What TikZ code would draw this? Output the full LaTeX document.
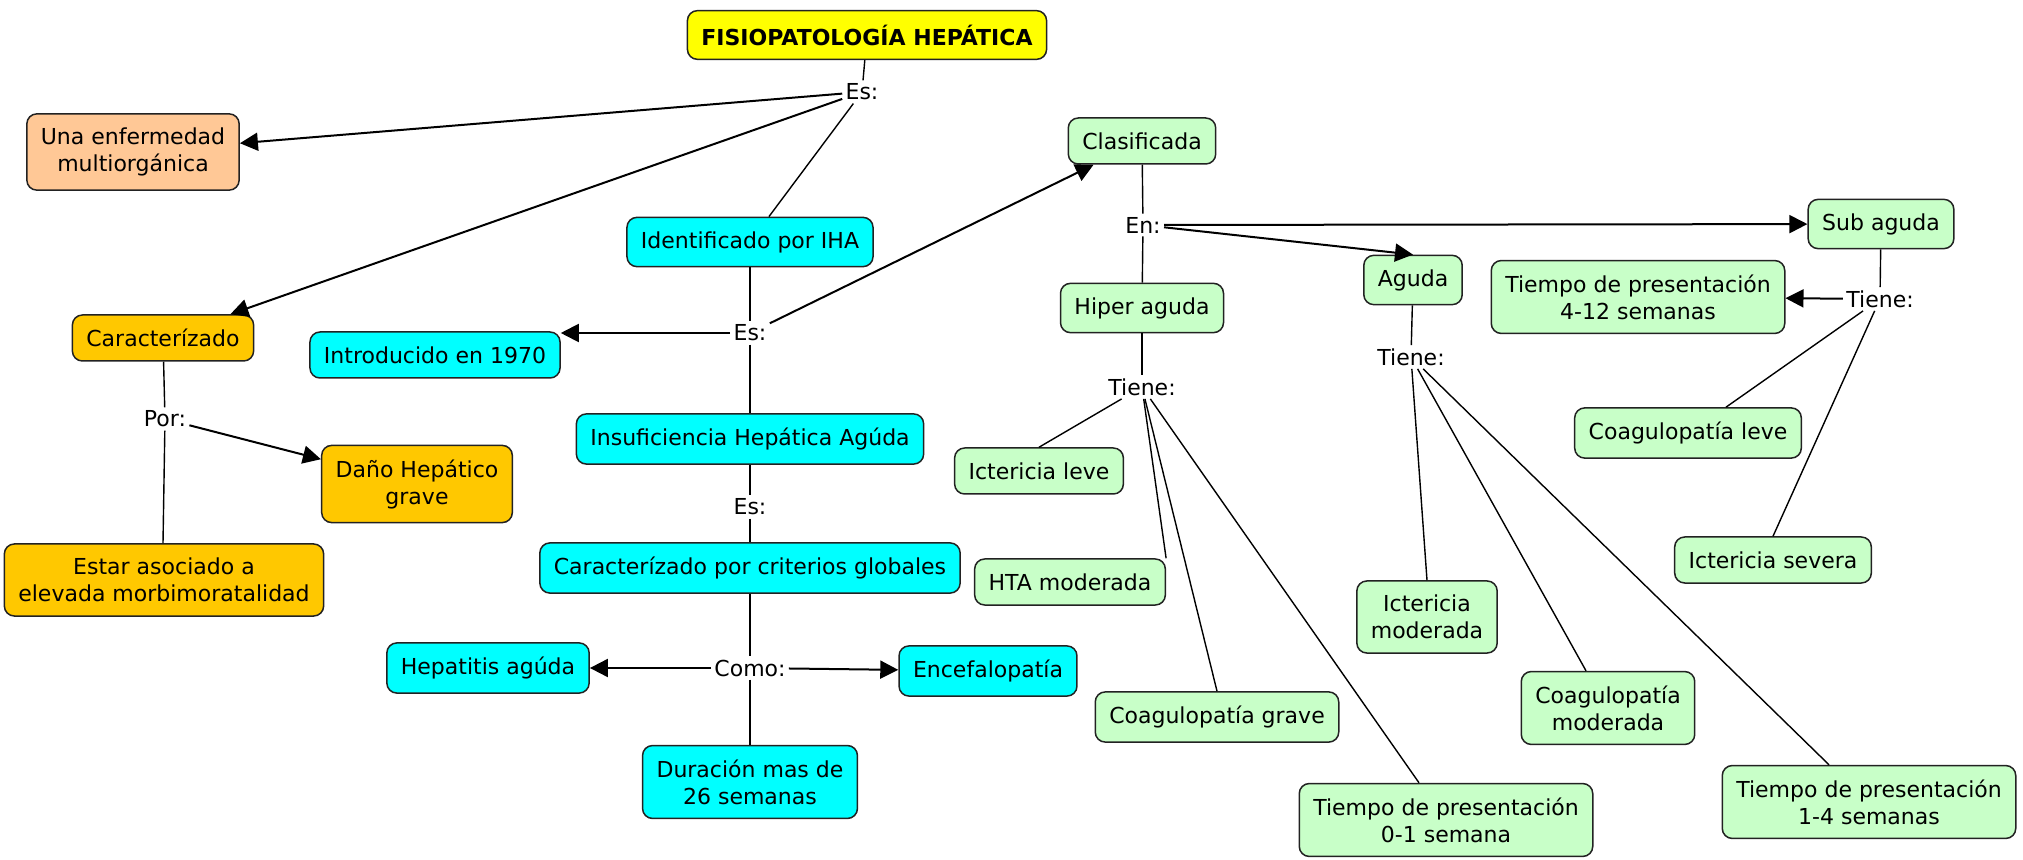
\documentclass[tikz,border=0pt]{standalone}
\usepackage{fontspec}
\setmainfont{DejaVu Sans}
\usetikzlibrary{arrows.meta}
\definecolor{amarillo}{HTML}{FFFF00}
\definecolor{durazno}{HTML}{FFC896}
\definecolor{naranja}{HTML}{FFC800}
\definecolor{cian}{HTML}{00FFFF}
\definecolor{verde}{HTML}{C8FFC8}
\definecolor{borde}{HTML}{222222}

\begin{document}
\begin{tikzpicture}[x=0.5pt,y=-0.5pt,>={Triangle[length=9pt,width=9pt]},
    main node/.style={rectangle,rounded corners=5pt,draw=borde,line width=0.75pt,align=center,inner xsep=7pt,inner ysep=7pt,minimum height=23pt,font=\fontsize{11}{13.5}\selectfont},
    cyan node/.style={main node,fill=cian},
    green node/.style={main node,fill=verde},
    orange node/.style={main node,fill=naranja},
    link node/.style={inner sep=1.5pt,font=\fontsize{11}{13.5}\selectfont}]
                \useasboundingbox (0,0) rectangle (2023,860);

                \node[main node,fill=amarillo,font=\fontsize{11}{13.5}\bfseries] (1) at (867,35) {FISIOPATOLOGÍA HEPÁTICA};
                \node[link node] (2) at (862,92) {Es:};
                \node[main node,fill=durazno] (3) at (133,152) {Una enfermedad\\multiorgánica};
                \node[orange node] (4) at (163,338) {Caracterízado};
                \node[cyan node] (5) at (750,242) {Identificado por IHA};
                \node[link node] (6) at (750,333) {Es:};
                \node[cyan node] (7) at (435,355) {Introducido en 1970};
                \node[green node] (8) at (1142,141) {Clasificada};
                \node[cyan node] (9) at (750,439) {Insuficiencia Hepática Agúda};
                \node[link node] (10) at (750,507) {Es:};
                \node[cyan node] (11) at (750,568) {Caracterízado por criterios globales};
                \node[link node] (12) at (750,668) {Como:};
                \node[cyan node] (13) at (488,668) {Hepatitis agúda};
                \node[cyan node] (14) at (988,671) {Encefalopatía};
                \node[cyan node] (15) at (750,782) {Duración mas de\\26 semanas};
                \node[link node] (16) at (165,419) {Por:};
                \node[orange node] (17) at (417,484) {Daño Hepático\\grave};
                \node[orange node] (18) at (164,580) {Estar asociado a\\elevada morbimoratalidad};
                \node[link node] (19) at (1143,225) {En:};
                \node[green node] (20) at (1142,308) {Hiper aguda};
                \node[green node] (21) at (1413,280) {Aguda};
                \node[green node] (22) at (1881,224) {Sub aguda};
                \node[link node] (23) at (1142,387) {Tiene:};
                \node[green node] (24) at (1039,471) {Ictericia leve};
                \node[green node] (25) at (1070,582) {HTA moderada};
                \node[green node] (26) at (1217,717) {Coagulopatía grave};
                \node[green node] (27) at (1446,820) {Tiempo de presentación\\0-1 semana};
                \node[link node] (28) at (1411,357) {Tiene:};
                \node[green node] (29) at (1427,617) {Ictericia\\moderada};
                \node[green node] (30) at (1608,708) {Coagulopatía\\moderada};
                \node[green node] (31) at (1869,802) {Tiempo de presentación\\1-4 semanas};
                \node[link node] (32) at (1880,299) {Tiene:};
                \node[green node] (33) at (1638,297) {Tiempo de presentación\\4-12 semanas};
                \node[green node] (34) at (1688,433) {Coagulopatía leve};
                \node[green node] (35) at (1773,560) {Ictericia severa};

                \path[line width=0.7pt]
                    (1) edge (2)
                    (2) edge (5)
                    (5) edge (6)
                    (6) edge (9)
                    (9) edge (10)
                    (10) edge (11)
                    (11) edge (12)
                    (12) edge (15)
                    (4) edge (16)
                    (16) edge (18.north -| 4)
                    (8) edge (19)
                    (19) edge (20)
                    (20) edge (23)
                    (23) edge (24.north)
                    (23) edge (25.north east)
                    (23) edge (26.north)
                    (23) edge ([xshift=-13.5pt]27.north)
                    (21) edge (28)
                    (28) edge (29.north)
                    (28) edge ([xshift=-11pt]30.north)
                    (28) edge ([xshift=-20pt]31.north)
                    (22) edge (32)
                    (32) edge ([xshift=19pt]34.north)
                    (32) edge (35.north)
                    ;
                \path[->,line width=1pt]
                    (2) edge (3)
                    (2) edge (4)
                    (6) edge (7.east |- 6)
                    (6) edge (8)
                    (12) edge (13)
                    (12) edge (14)
                    (16) edge (17)
                    (19) edge (22)
                    (19) edge (21.north)
                    (32) edge (33)
                    ;
\end{tikzpicture}
\end{document}
